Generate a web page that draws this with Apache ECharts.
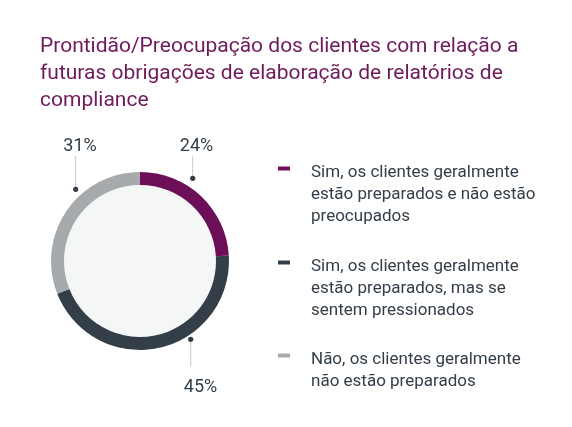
<!DOCTYPE html>
<html>
<head>
<meta charset="utf-8">
<script src="https://cdn.jsdelivr.net/npm/echarts@6/dist/echarts.min.js"></script>
<style>
  html, body { margin: 0; padding: 0; background: #ffffff; }
  #chart { width: 572px; height: 427px; }
</style>
</head>
<body>
<div id="chart"></div>
<script>
// ---- data ----
const titleText = 'Prontidão/Preocupação dos clientes com relação a\nfuturas obrigações de elaboração de relatórios de\ncompliance';
const categories = [
  'Sim, os clientes geralmente estão preparados e não estão preocupados',
  'Sim, os clientes geralmente estão preparados, mas se sentem pressionados',
  'Não, os clientes geralmente não estão preparados'
];
const legendLines = [
  ['Sim, os clientes geralmente', 'estão preparados e não estão', 'preocupados'],
  ['Sim, os clientes geralmente', 'estão preparados, mas se', 'sentem pressionados'],
  ['Não, os clientes geralmente', 'não estão preparados']
];
const values = [24, 45, 31];

// ---- styling / layout (not data) ----
const colors = ['#6c0f58', '#333e48', '#a6aaad'];
const textColor = '#333e48';
const center = [140, 261];
const outerR = 89, innerR = 76;
const legendTops = [114, 208, 325];
// label text centre and leader line (x, dot y, line end y)
const labelLayoutPos = [
  { x: 196.5, y: 146.5, lx: 192.7, dotY: 178.3, endY: 156 },
  { x: 200.5, y: 387,   lx: 190.7, dotY: 339.3, endY: 366 },
  { x: 80,    y: 146.5, lx: 75.7,  dotY: 189.3, endY: 156 }
];

const chart = echarts.init(document.getElementById('chart'), null, { renderer: 'canvas' });

const pieData = categories.map((n, i) => ({ name: n, value: values[i], itemStyle: { color: colors[i] } }));

// rich legend text: blank lines above push the first text line level with the icon
function legendRich(name) {
  const lines = legendLines[categories.indexOf(name)];
  const blanks = lines.length === 3 ? ['{b|\u00a0}', '{b|\u00a0}'] : ['{c|\u00a0}'];
  return blanks.concat(lines.map(l => '{t|' + l + '}')).join('\n');
}

const legendBase = {
  orient: 'vertical',
  left: 278,
  padding: 0,
  itemWidth: 12,
  itemHeight: 4,
  icon: 'rect',
  selectedMode: false,
  formatter: legendRich,
  textStyle: {
    fontFamily: 'Roboto', fontSize: 17, color: textColor,
    padding: [0, 0, 0, 16],
    rich: {
      b: { fontFamily: 'Roboto', fontSize: 17, lineHeight: 26, color: textColor },
      c: { fontFamily: 'Roboto', fontSize: 17, lineHeight: 30, color: textColor },
      t: { fontFamily: 'Roboto', fontSize: 17, lineHeight: 22, color: textColor }
    }
  }
};

const option = {
  animation: false,
  backgroundColor: '#ffffff',
  textStyle: { fontFamily: 'Roboto' },
  title: {
    text: titleText,
    left: 40,
    top: 33,
    padding: 0,
    textStyle: { fontFamily: 'Roboto', fontSize: 21, fontWeight: 'normal', color: '#6e1a5c', lineHeight: 27 }
  },
  legend: categories.map((n, i) => Object.assign({}, legendBase, { top: legendTops[i], data: [n] })),
  graphic: [
    { type: 'circle', z: 0, shape: { cx: center[0], cy: center[1], r: innerR }, style: { fill: '#f5f7f7' }, silent: true }
  ].concat(labelLayoutPos.map(p => ({
    type: 'circle', z: 100, shape: { cx: p.lx, cy: p.dotY, r: 2.6 }, style: { fill: textColor }, silent: true
  }))),
  series: [{
    type: 'pie',
    center: center,
    radius: [innerR, outerR],
    startAngle: 90,
    clockwise: true,
    silent: true,
    avoidLabelOverlap: false,
    itemStyle: { borderWidth: 0 },
    label: {
      show: true,
      position: 'outside',
      formatter: '{c}%',
      fontFamily: 'Roboto',
      fontSize: 18,
      color: textColor
    },
    labelLine: {
      show: true,
      lineStyle: { type: 'dotted', color: '#8a9097', width: 1 }
    },
    labelLayout: function (params) {
      const p = labelLayoutPos[params.dataIndex];
      return {
        x: p.x, y: p.y, align: 'center', verticalAlign: 'middle',
        labelLinePoints: [[p.lx, p.dotY], [p.lx, (p.dotY + p.endY) / 2], [p.lx, p.endY]]
      };
    },
    data: pieData
  }]
};
chart.setOption(option);
</script>
</body>
</html>
